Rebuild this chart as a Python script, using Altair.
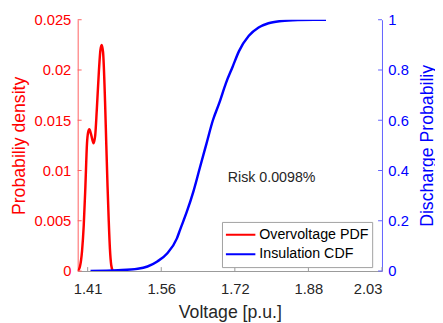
import altair as alt
import pandas as pd

# ---- data ----
pdf_v = [1.3893, 1.3935, 1.3982, 1.4017, 1.4052, 1.4086, 1.4110, 1.4135, 1.4172,
         1.4224, 1.4259, 1.4292, 1.4338, 1.4369, 1.4395, 1.4424, 1.4466, 1.4493,
         1.4519, 1.4544, 1.4569, 1.4596, 1.4630]
pdf_y = [0.0, 0.0004, 0.0020, 0.0045, 0.0084, 0.0127, 0.0138, 0.0141, 0.0136,
         0.0127, 0.0135, 0.0160, 0.0200, 0.0220, 0.0225, 0.0218, 0.0169, 0.0125,
         0.0084, 0.0050, 0.0022, 0.0006, 0.0]

cdf_v = [1.416, 1.474, 1.5154, 1.536, 1.5567, 1.5774, 1.598, 1.6048, 1.6187, 1.6325,
         1.6462, 1.660, 1.6738, 1.6875, 1.7013, 1.7152, 1.7288, 1.7495, 1.7701, 1.7908,
         1.8185, 1.8528, 1.8873, 1.912]
cdf_y = [0.0, 0.003, 0.009, 0.018, 0.038, 0.070, 0.130, 0.165, 0.235, 0.315,
         0.410, 0.505, 0.600, 0.670, 0.748, 0.812, 0.875, 0.936, 0.969, 0.986,
         0.995, 0.999, 1.0, 1.0]

x_ticks = [1.41, 1.565, 1.72, 1.875, 2.03]
left_ticks = [0, 0.005, 0.01, 0.015, 0.02, 0.025]
right_ticks = [0, 0.2, 0.4, 0.6, 0.8, 1]
series = ["Overvoltage PDF", "Insulation CDF"]
risk_text = ["Risk 0.0098%"]
risk_pos = [1.705, 0.37]

W, H = 310, 256
FONT = "Liberation Sans"
DARK = "#262626"

pdf_df = pd.DataFrame({"v": pdf_v, "p": pdf_y, "s": series[0]})
cdf_df = pd.DataFrame({"v": cdf_v, "p": cdf_y, "s": series[1]})

xscale = alt.Scale(domain=[1.389, 2.03], nice=False, zero=False)
color = alt.Color("s:N", scale=alt.Scale(domain=series, range=["#ff0000", "#0000ff"]),
                  legend=alt.Legend(orient="none", legendX=147, legendY=206, title=None,
                                    symbolType="stroke", symbolSize=900, symbolStrokeWidth=2,
                                    labelFont=FONT, labelFontSize=14.5, labelColor="#000",
                                    fillColor="white", strokeColor="#a0a0a0", padding=3,
                                    labelOffset=3, rowPadding=0, clipHeight=20))

xaxis = alt.Axis(values=x_ticks, format=".2f", title="Voltage [p.u.]", ticks=False,
                 domainColor="#999999", labelColor=DARK, titleColor=DARK,
                 labelFont=FONT, titleFont=FONT, labelFontSize=15, titleFontSize=18,
                 titleFontWeight="normal", labelPadding=11, titlePadding=7, grid=False)

pdf_line = alt.Chart(pdf_df).mark_line(strokeWidth=2.5, interpolate="monotone", clip=True).encode(
    x=alt.X("v:Q", scale=xscale, axis=xaxis),
    y=alt.Y("p:Q", scale=alt.Scale(domain=[0, 0.025], nice=False),
            axis=alt.Axis(values=left_ticks, labelExpr="'' + datum.value", ticks=False,
                          title="Probabiliy density", domainColor="#ff6060",
                          labelColor="#ff0000", titleColor="#ff0000", labelFont=FONT,
                          titleFont=FONT, labelFontSize=15, titleFontSize=18,
                          titleFontWeight="normal", labelPadding=7, titlePadding=6, grid=False)),
    color=color,
)

lt_df = pd.DataFrame({"t": left_ticks})
left_tick_marks = alt.Chart(lt_df).mark_rule(color="#ff6060", strokeWidth=1).encode(
    y=alt.Y("t:Q"), x=alt.value(0), x2=alt.value(4))

bt_df = pd.DataFrame({"t": x_ticks})
bottom_tick_marks = alt.Chart(bt_df).mark_rule(color="#999999", strokeWidth=1).encode(
    x=alt.X("t:Q", scale=xscale), y=alt.value(H), y2=alt.value(H - 4))

cdf_line = alt.Chart(cdf_df).mark_line(strokeWidth=2.5, interpolate="monotone", clip=True).encode(
    x=alt.X("v:Q", scale=xscale),
    y=alt.Y("p:Q", scale=alt.Scale(domain=[0, 1], nice=False),
            axis=alt.Axis(orient="right", values=right_ticks, labelExpr="'' + datum.value",
                          ticks=False, title="Discharge Probabiliy", domainColor="#6060ff",
                          labelColor="#0000ff", titleColor="#0000ff", labelFont=FONT,
                          titleFont=FONT, labelFontSize=15, titleFontSize=18,
                          titleFontWeight="normal", labelPadding=6, titlePadding=11,
                          titleAngle=270, titleBaseline="top", grid=False)),
    color=color,
)

rt_df = pd.DataFrame({"t": right_ticks})
right_tick_marks = alt.Chart(rt_df).mark_rule(color="#6060ff", strokeWidth=1).encode(
    y=alt.Y("t:Q"), x=alt.value(W), x2=alt.value(W - 4))

risk_df = pd.DataFrame({"label": risk_text, "v": [risk_pos[0]], "p": [risk_pos[1]]})
risk = alt.Chart(risk_df).mark_text(align="left", baseline="middle", font=FONT,
                                    fontSize=14.5, color=DARK).encode(
    x=alt.X("v:Q", scale=xscale), y=alt.Y("p:Q"), text="label:N")

left_group = alt.layer(pdf_line, left_tick_marks, bottom_tick_marks)
right_group = alt.layer(cdf_line, right_tick_marks, risk)

chart = alt.layer(left_group, right_group).resolve_scale(y="independent").properties(
    width=W, height=H,
    autosize=alt.AutoSizeParams(type="none"),
    padding={"left": 71, "top": 9, "right": 54, "bottom": 50},
).configure_view(stroke=None)

chart.save("out.html", embed_options={"renderer": "svg", "actions": False})
